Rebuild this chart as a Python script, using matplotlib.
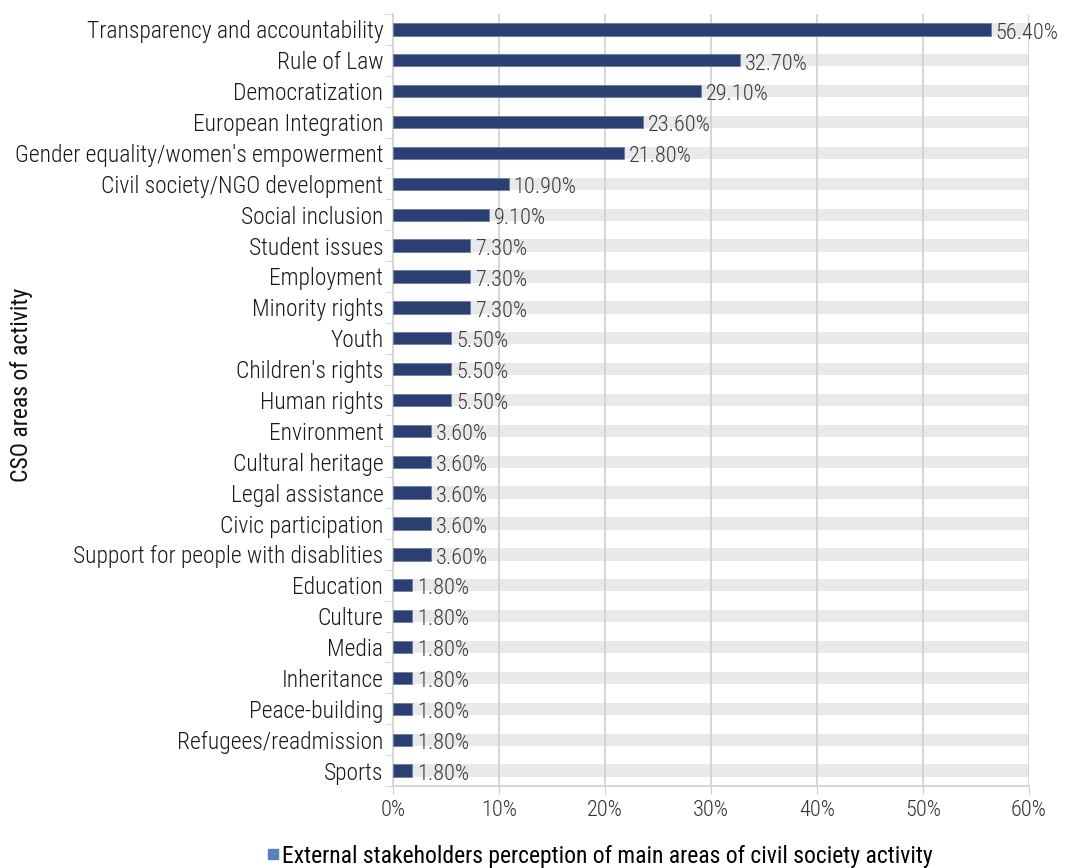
import matplotlib
matplotlib.use("Agg")
import matplotlib.pyplot as plt
from matplotlib.ticker import FuncFormatter
from matplotlib.lines import Line2D

categories = [
    "Transparency and accountability", "Rule of Law", "Democratization",
    "European Integration", "Gender equality/women's empowerment",
    "Civil society/NGO development", "Social inclusion", "Student issues",
    "Employment", "Minority rights", "Youth", "Children's rights",
    "Human rights", "Environment", "Cultural heritage", "Legal assistance",
    "Civic participation", "Support for people with disablities", "Education",
    "Culture", "Media", "Inheritance", "Peace-building",
    "Refugees/readmission", "Sports",
]
values = [56.4, 32.7, 29.1, 23.6, 21.8, 10.9, 9.1, 7.3, 7.3, 7.3, 5.5, 5.5,
          5.5, 3.6, 3.6, 3.6, 3.6, 3.6, 1.8, 1.8, 1.8, 1.8, 1.8, 1.8, 1.8]
x_max = 60
x_ticks = [0, 10, 20, 30, 40, 50, 60]
series_name = "External stakeholders perception of main areas of civil society activity"
axis_title = "CSO areas of activity"

FONT = ["Roboto Condensed", "Roboto", "DejaVu Sans"]
plt.rcParams["font.family"] = FONT

BAR = "#2b3f73"
BG = "#e9e9eb"
GRID = "#cfcfcf"

fig = plt.figure(figsize=(10.66, 8.68), dpi=100)
ax = fig.add_axes([393 / 1066, 1 - 786 / 868, (1029 - 393) / 1066, (786 - 14) / 868])

n = len(categories)
ys = list(range(n))
h = 0.4

# background track, gridlines, then the data bars
ax.barh(ys, [x_max] * n, height=h, color=BG, zorder=1)
for t in x_ticks[1:]:
    ax.axvline(t, color=GRID, lw=1.2, zorder=2)
ax.barh(ys, values, height=h, color=BAR, edgecolor="#6d7fa6", linewidth=0.6, zorder=3)

for y, v in zip(ys, values):
    ax.text(v + 0.45, y + 0.12, f"{v:.2f}%", va="center", ha="left",
            fontsize=16, fontweight="light", color="#3a3a3a", zorder=4)

ax.set_xlim(0, x_max)
ax.set_ylim(n - 0.5, -0.5)
ax.set_xticks(x_ticks)
ax.xaxis.set_major_formatter(FuncFormatter(lambda x, p: f"{x:.0f}%"))
ax.set_yticks(ys)
ax.set_yticklabels(categories, fontweight="light")
ax.tick_params(axis="y", length=0, labelsize=16.9, pad=7, labelcolor="#1a1a1a")
for lbl in ax.get_yticklabels():
    lbl.set_verticalalignment("center_baseline")
ax.tick_params(axis="x", length=6, color=GRID, labelsize=16, pad=4, labelcolor="#333333")
for lbl in ax.get_xticklabels():
    lbl.set_fontweight("light")
# small ticks between categories on the y axis
ax.set_yticks([i + 0.5 for i in range(-1, n)], minor=True)
ax.tick_params(axis="y", which="minor", length=6, color=GRID)

for s in ["top", "right"]:
    ax.spines[s].set_visible(False)
for s in ["left", "bottom"]:
    ax.spines[s].set_color(GRID)
    ax.spines[s].set_linewidth(1.2)

fig.text(22 / 1066, 1 - 385 / 868, axis_title, rotation=90, va="center",
         ha="center", fontsize=17, color="#111111")

handle = Line2D([], [], marker="s", linestyle="none", markersize=7,
                markerfacecolor="#5b7fbf", markeredgecolor="#5b7fbf")
fig.legend([handle], [series_name], loc="center", bbox_to_anchor=(598 / 1066, 1 - 856 / 868),
           frameon=False, fontsize=17, handletextpad=0.0, handlelength=0.8,
           borderpad=0)

fig.savefig("out.png", dpi=100)
